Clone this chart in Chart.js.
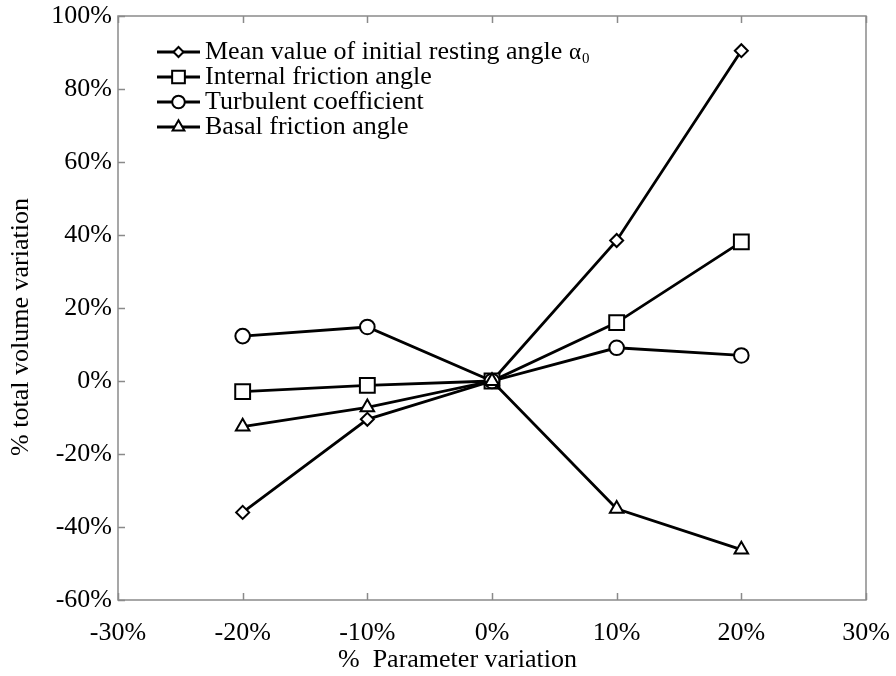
<!DOCTYPE html>
<html>
<head>
<meta charset="utf-8">
<script src="https://cdn.jsdelivr.net/npm/chart.js@4/dist/chart.umd.min.js"></script>
<style>
  html, body { margin: 0; padding: 0; background: #ffffff; }
  #wrap { width: 896px; height: 676px; }
</style>
</head>
<body>
<div id="wrap"><canvas id="c" width="896" height="676"></canvas></div>
<script>
// Parameter variation (fraction) and the resulting total volume variation per parameter
const paramVariation = [-0.2, -0.1, 0, 0.1, 0.2];
const meanRestingAngle = [-0.36, -0.105, 0, 0.385, 0.905];
const internalFriction = [-0.029, -0.012, 0, 0.16, 0.381];
const turbulentCoeff = [0.123, 0.148, 0, 0.091, 0.07];
const basalFriction = [-0.125, -0.072, 0, -0.35, -0.462];

const seriesNames = [
  'Mean value of initial resting angle',
  'Internal friction angle',
  'Turbulent coefficient',
  'Basal friction angle'
];
const xTitle = '%  Parameter variation';
const yTitle = '% total volume variation';

const xTickRange = { min: -0.3, max: 0.3, step: 0.1 };
const yTickRange = { min: -0.6, max: 1.0, step: 0.2 };

const FONT = "'Liberation Serif', 'Times New Roman', serif";
const AXIS_GRAY = '#8a8a8a';

const toPoints = vals => vals.map((v, i) => ({ x: paramVariation[i], y: v }));
const pct = v => Math.round(v * 100) + '%';

function series(label, vals, style, radius, legendRadius, order) {
  return {
    label,
    data: toPoints(vals),
    showLine: true,
    borderColor: '#000',
    borderWidth: 2.8,
    pointStyle: style,
    pointRadius: radius,
    pointBackgroundColor: '#fff',
    pointBorderColor: '#000',
    pointBorderWidth: 2,
    legendRadius,
    order
  };
}

// Plot frame with inward-pointing tick marks
const frameTicks = {
  id: 'frameTicks',
  beforeDatasetsDraw(chart) {
    const { ctx, chartArea: a, scales: { x, y } } = chart;
    ctx.save();
    ctx.strokeStyle = AXIS_GRAY;
    ctx.lineWidth = 1.5;
    ctx.strokeRect(a.left, a.top, a.right - a.left, a.bottom - a.top);
    ctx.beginPath();
    x.ticks.forEach(t => {
      const px = Math.round(x.getPixelForValue(t.value)) + 0.5;
      ctx.moveTo(px, a.bottom); ctx.lineTo(px, a.bottom - 7);
      ctx.moveTo(px, a.top); ctx.lineTo(px, a.top + 7);
    });
    y.ticks.forEach(t => {
      const py = Math.round(y.getPixelForValue(t.value)) + 0.5;
      ctx.moveTo(a.left, py); ctx.lineTo(a.left + 7, py);
    });
    ctx.stroke();
    ctx.restore();
  }
};

// Axis titles, placed below / left of the plot
const axisTitles = {
  id: 'axisTitles',
  afterDraw(chart) {
    const { ctx } = chart;
    ctx.save();
    ctx.fillStyle = '#000';
    ctx.font = '26px ' + FONT;
    ctx.textBaseline = 'middle';
    ctx.textAlign = 'left';
    ctx.fillText(xTitle, 338, 660);
    ctx.translate(21, 327);
    ctx.rotate(-Math.PI / 2);
    ctx.textAlign = 'center';
    ctx.fillText(yTitle, 0, 0);
    ctx.restore();
  }
};

// Legend drawn inside the plot: short line with its marker, then the label
const innerLegend = {
  id: 'innerLegend',
  afterDraw(chart) {
    const { ctx } = chart;
    const x0 = 157, x1 = 200, textX = 205, top = 52, rowH = 25;
    ctx.save();
    chart.data.datasets.forEach((ds, i) => {
      const yc = top + i * rowH;
      ctx.strokeStyle = '#000';
      ctx.lineWidth = 2.8;
      ctx.beginPath();
      ctx.moveTo(x0, yc); ctx.lineTo(x1, yc);
      ctx.stroke();
      ctx.fillStyle = '#fff';
      ctx.strokeStyle = '#000';
      ctx.lineWidth = 2;
      Chart.helpers.drawPoint(ctx, { pointStyle: ds.pointStyle, radius: ds.legendRadius, rotation: 0, borderWidth: 2 }, (x0 + x1) / 2, yc);
      ctx.fillStyle = '#000';
      ctx.font = '26px ' + FONT;
      ctx.textBaseline = 'middle';
      ctx.textAlign = 'left';
      ctx.fillText(ds.label, textX, yc);
      if (i === 0) {
        const w = ctx.measureText(ds.label + ' ').width;
        ctx.font = '23px ' + FONT;
        ctx.fillText('\u03B1', textX + w, yc + 1);
        const wa = ctx.measureText('\u03B1').width;
        ctx.font = '15px ' + FONT;
        ctx.fillText('0', textX + w + wa + 1, yc + 7);
      }
    });
    ctx.restore();
  }
};

new Chart(document.getElementById('c'), {
  type: 'scatter',
  data: {
    datasets: [
      series(seriesNames[0], meanRestingAngle, 'rectRot', 6.5, 5, 3),
      series(seriesNames[1], internalFriction, 'rect', 10.5, 9, 2),
      series(seriesNames[2], turbulentCoeff, 'circle', 7.3, 6.3, 1),
      series(seriesNames[3], basalFriction, 'triangle', 7.8, 6.8, 0)
    ]
  },
  options: {
    responsive: false,
    devicePixelRatio: 1,
    animation: false,
    layout: { padding: { top: 16, right: 30, bottom: 0, left: 0 } },
    plugins: { legend: { display: false }, tooltip: { enabled: false } },
    scales: {
      x: {
        type: 'linear',
        min: xTickRange.min,
        max: xTickRange.max,
        grid: { display: false, drawTicks: true, tickLength: 12 },
        border: { display: false },
        ticks: {
          stepSize: xTickRange.step,
          callback: pct,
          color: '#000',
          font: { family: FONT, size: 26 },
          padding: 6,
          maxRotation: 0
        },
        afterFit(scale) { scale.height = 76; }
      },
      y: {
        type: 'linear',
        min: yTickRange.min,
        max: yTickRange.max,
        grid: { display: false, drawTicks: true, tickLength: 6 },
        border: { display: false },
        ticks: {
          stepSize: yTickRange.step,
          callback: pct,
          color: '#000',
          font: { family: FONT, size: 26 },
          padding: 0
        },
        afterFit(scale) { scale.width = 118; }
      }
    }
  },
  plugins: [frameTicks, innerLegend, axisTitles]
});
</script>
</body>
</html>
